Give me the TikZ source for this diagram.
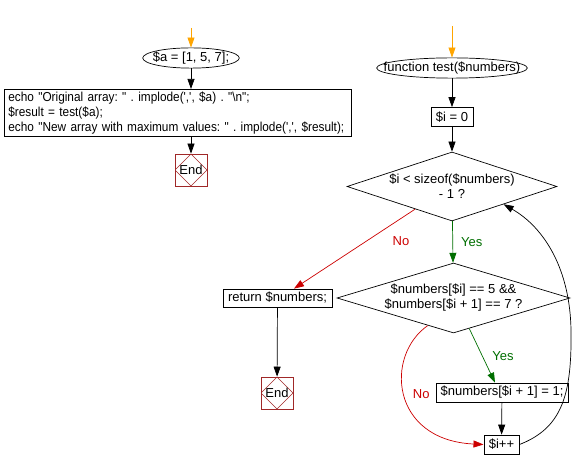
\documentclass[tikz,border=0pt]{standalone}
\usepackage{fontspec}
\usepackage{xcolor}
\usepackage{tikz}
\usetikzlibrary{shapes.geometric, arrows.meta, calc, positioning}
\newfontfamily\flowfont{Liberation Sans}
\newfontfamily\echofont{Liberation Sans}[FakeStretch=0.91]
\definecolor{flowred}{RGB}{204, 0, 0}
\definecolor{flowgreen}{RGB}{0, 110, 0}
\definecolor{floworange}{RGB}{255, 165, 0}
\definecolor{endbrown}{RGB}{160, 40, 40}
\frenchspacing

\begin{document}
\begin{tikzpicture}[x=1pt, y=-1pt, line width=0.7pt,
  font=\flowfont\fontsize{13}{15}\selectfont,
  every node/.style={inner sep=0pt},
  arr/.style={-{Triangle[length=10pt, width=7pt]}},
  startnode/.style={draw, ellipse, inner ysep=1pt},
  procbox/.style={draw, rectangle, minimum height=19pt, inner xsep=5pt},
  decision/.style={draw, diamond, align=center, inner sep=-2pt},
  endnode/.style={draw=endbrown, minimum size=32pt,
    path picture={\draw[endbrown, line width=0.5pt]
      (path picture bounding box.north) -- (path picture bounding box.east) --
      (path picture bounding box.south) -- (path picture bounding box.west) -- cycle;}},
  nolabel/.style={text=flowred},
  yeslabel/.style={text=flowgreen}]
\useasboundingbox (0,0) rectangle (584,470);

% Main program
\coordinate (in1) at (191,28);
\node[startnode, inner xsep=-4pt] (arr) at (191,58) {\$a = [1, 5, 7];};
\node[procbox, anchor=west, text width=339pt, align=left, inner xsep=4pt, inner ysep=2.5pt,
  font=\echofont\fontsize{13}{15}\selectfont] (echo) at (4,113)
  {echo "Original array: " . implode(',', \$a) . "\textbackslash n";\\
   \$result = test(\$a);\\
   echo "New array with maximum values: " . implode(',', \$result);};
\node[endnode] (end1) at (191,170) {End};

\draw[arr, floworange] (in1) -- (arr);
\draw[arr] (arr) -- (echo.north -| arr);
\draw[arr] (echo.south -| arr) -- (end1);

% Function test
\coordinate (in2) at (452,26);
\node[startnode, inner xsep=-15pt] (func) at (452,68) {function test(\$numbers)};
\node[procbox] (init) at (452,117) {\$i = 0};
\node[decision, minimum width=210pt, minimum height=69pt, aspect=3] (cond1) at (452,186.5)
  {\$i < sizeof(\$numbers)\\- 1 ?};
\node[decision, minimum width=233pt, minimum height=70pt, aspect=3.3] (cond2) at (453.5,298)
  {\$numbers[\$i] == 5 \&\&\\\$numbers[\$i + 1] == 7 ?};
\node[procbox, minimum height=18pt] (ret) at (277.5,298) {return \$numbers;};
\node[endnode] (end2) at (277,393) {End};
\node[procbox, inner xsep=4.5pt] (set) at (502,392.5) {\$numbers[\$i + 1] = 1;};
\node[procbox] (inc) at (501.5,444.5) {\$i++};

\draw[arr, floworange] (in2) -- (func);
\draw[arr] (func) -- (init);
\draw[arr] (init) -- (cond1);
\draw[arr, flowgreen] (cond1) -- (cond2) node[yeslabel, pos=0.5, right=8pt] {Yes};
\draw[arr, flowred] ($(cond1.south)!0.35!(cond1.west)$) -- ($(ret.north)!0.3!(ret.north east)$)
  node[nolabel, pos=0.15, below=15pt, xshift=4pt] {No};
\draw[arr] (ret) -- (end2);
\draw[arr, flowgreen] ($(cond2.south)!0.135!(cond2.east)$) -- ([xshift=-7pt]set.north)
  node[yeslabel, pos=0.5, right=10pt] {Yes};
\draw[arr, flowred] ($(cond2.south)!0.22!(cond2.west)$) .. controls (385,355) and (390,440) .. (inc.west)
  node[nolabel, pos=0.5, right=8pt] {No};
\draw[arr] (set) -- (inc);
% loop back
\draw[arr] (inc.east) .. controls (562,428) and (572,395) .. (571,330)
  .. controls (570,270) and (545,228) .. ($(cond1.south)!0.49!(cond1.east)$);
\end{tikzpicture}
\end{document}
